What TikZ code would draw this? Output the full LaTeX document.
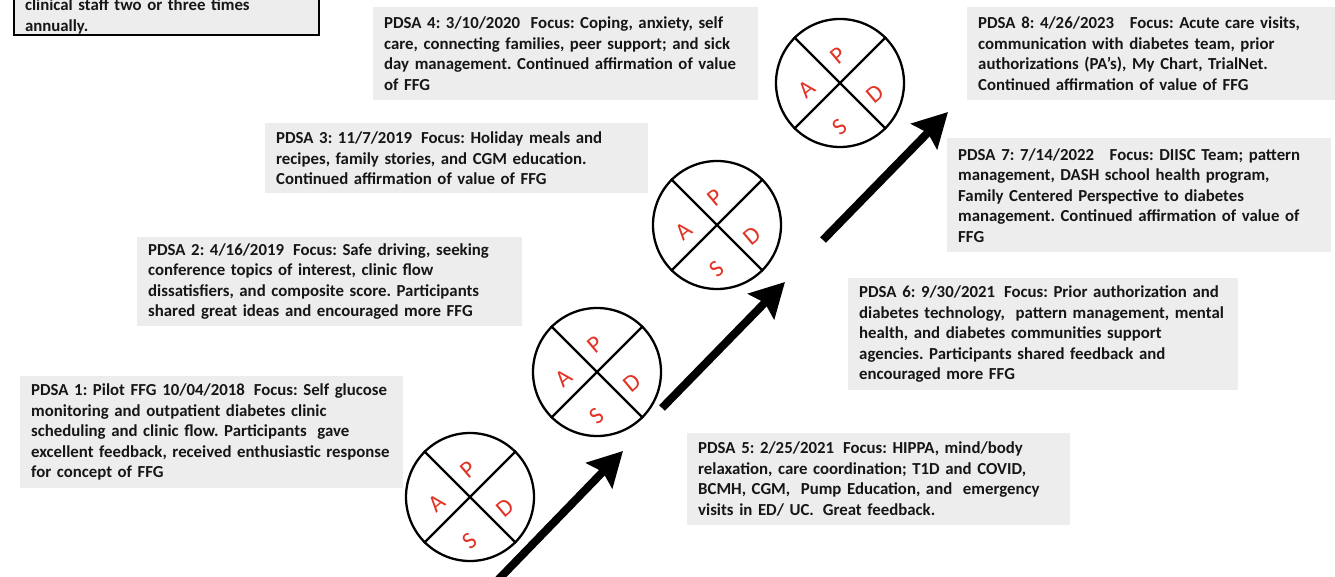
\documentclass[tikz,border=0pt]{standalone}
\usepackage{fontspec}
\setmainfont{Carlito}
\usetikzlibrary{arrows.meta}
\definecolor{boxgray}{RGB}{237,237,237}
\definecolor{txt}{RGB}{22,22,22}
\definecolor{pdsared}{RGB}{226,50,36}
\frenchspacing
\begin{document}
\begin{tikzpicture}[x=1pt,y=-1pt,
  info/.style={anchor=north west, fill=boxgray, inner xsep=11pt, inner ysep=0pt,
    align=left, text=txt, font=\fontsize{16.8}{20.5}\selectfont\bfseries},
  wheel/.style={circle, draw, line width=2.3pt, minimum size=128pt, inner sep=0pt},
  ltr/.style={text=pdsared, font=\fontsize{24}{24}\selectfont, rotate=40, inner sep=0pt},
  quad/.style={line width=2.3pt},
  bigarrow/.style={line width=8pt, -{Stealth[length=34pt,width=36pt,inset=5pt]}}]
\useasboundingbox (0,0) rectangle (1335,577);
\clip (0,0) rectangle (1335,577);

% text boxes
\node[info, draw=black, line width=2pt, text width=283pt, minimum height=37pt] (tl) at (13,-3)
  {clinical staff two or three times\\annually.};
\node[info, text width=363pt, minimum height=93pt] (p4) at (373,7)
  {PDSA 4: 3/10/2020\hspace{0.3em} Focus: Coping, anxiety, self\\care, connecting families, peer support; and sick\\day management. Continued affirmation of value\\of FFG};
\node[info, text width=346pt, minimum height=93pt] (p8) at (967,7)
  {PDSA 8: 4/26/2023\hspace{0.6em} Focus: Acute care visits,\\communication with diabetes team, prior\\authorizations (PA’s), My Chart, TrialNet.\\Continued affirmation of value of FFG};
\node[info, text width=361pt, minimum height=70pt] (p3) at (265,123)
  {PDSA 3: 11/7/2019\hspace{0.2em} Focus: Holiday meals and\\recipes, family stories, and CGM education.\\Continued affirmation of value of FFG};
\node[info, text width=362pt, minimum height=114pt] (p7) at (947,138)
  {PDSA 7: 7/14/2022\hspace{0.6em} Focus: DIISC Team; pattern\\management, DASH school health program,\\Family Centered Perspective to diabetes\\management. Continued affirmation of value of\\FFG};
\node[info, text width=363pt, minimum height=89pt] (p2) at (137,237)
  {PDSA 2: 4/16/2019\hspace{0.2em} Focus: Safe driving, seeking\\conference topics of interest, clinic flow\\dissatisfiers, and composite score. Participants\\shared great ideas and encouraged more FFG};
\node[info, text width=368pt, minimum height=112pt] (p6) at (848,278)
  {PDSA 6: 9/30/2021\hspace{0.2em} Focus: Prior authorization and\\diabetes technology,\hspace{0.3em} pattern management, mental\\health, and diabetes communities support\\agencies. Participants shared feedback and\\encouraged more FFG};
\node[info, text width=361pt, minimum height=112pt] (p1) at (20,376)
  {PDSA 1: Pilot FFG 10/04/2018\hspace{0.2em} Focus: Self glucose\\monitoring and outpatient diabetes clinic\\scheduling and clinic flow. Participants\hspace{0.3em} gave\\excellent feedback, received enthusiastic response\\for concept of FFG};
\node[info, text width=361pt, minimum height=92pt] (p5) at (687,433)
  {PDSA 5: 2/25/2021\hspace{0.2em} Focus: HIPPA, mind/body\\relaxation, care coordination; T1D and COVID,\\BCMH, CGM,\hspace{0.3em} Pump Education, and\hspace{0.3em} emergency\\visits in ED/ UC.\hspace{0.2em} Great feedback.};

% PDSA wheels
\foreach \n/\cx/\cy in {c1/470/497, c2/597/372, c3/717/225, c4/840/83} {
  \node[wheel] (\n) at (\cx,\cy) {};
  \draw[quad] (\n.north west) -- (\n.south east);
  \draw[quad] (\n.north east) -- (\n.south west);
  \node[ltr] (\n P) at ([shift={(-2,-27)}]\n.center) {P};
  \node[ltr] (\n D) at ([shift={(35,11)}]\n.center) {D};
  \node[ltr] (\n S) at ([shift={(0,44)}]\n.center) {S};
  \node[ltr] (\n A) at ([shift={(-33,6)}]\n.center) {A};
}

% arrows
\coordinate (a1s) at (496,582); \coordinate (a1e) at (623,451);
\coordinate (a2s) at (662,408); \coordinate (a2e) at (785,282);
\coordinate (a3s) at (823,240); \coordinate (a3e) at (948,112);
\draw[bigarrow] (a1s) -- (a1e);
\draw[bigarrow] (a2s) -- (a2e);
\draw[bigarrow] (a3s) -- (a3e);
\end{tikzpicture}
\end{document}
